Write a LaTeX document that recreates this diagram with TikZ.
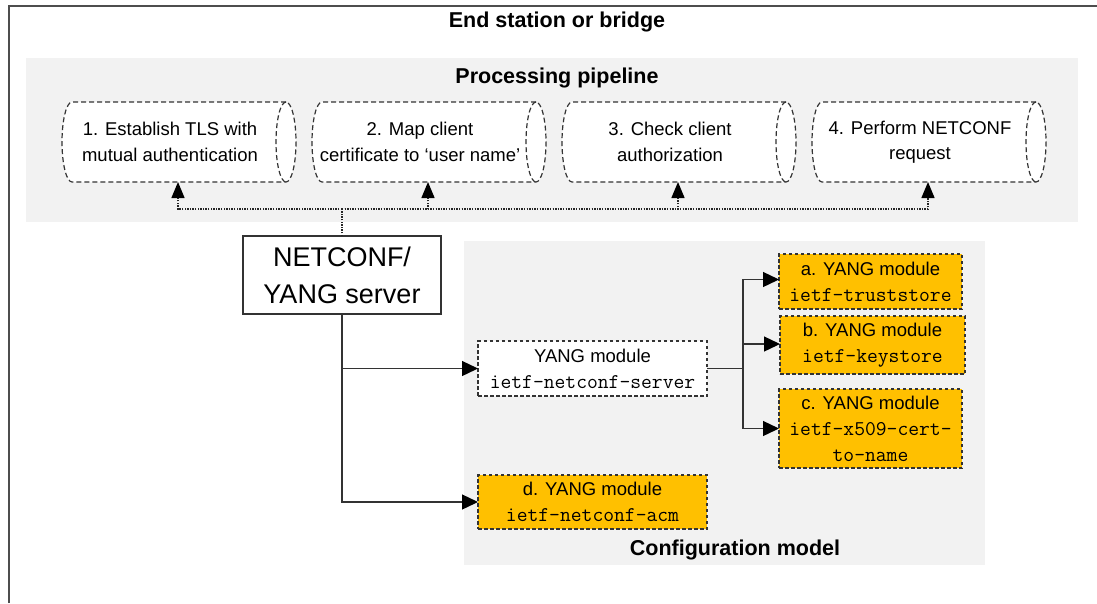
\documentclass[tikz,border=0pt]{standalone}
\usepackage{fontspec}
\setmainfont{Liberation Sans}
\usetikzlibrary{arrows.meta}
\definecolor{panel}{HTML}{F2F2F2}
\definecolor{amber}{HTML}{FFC000}
\definecolor{ink}{HTML}{333333}
\definecolor{framegray}{HTML}{4D4D4D}
\newcommand\modfont{\fontsize{21}{26}\ttfamily}
\pgfdeclarelayer{bottom}
\pgfdeclarelayer{background}
\pgfsetlayers{bottom,background,main}

\begin{document}
\begin{tikzpicture}[x=1pt,y=-1pt,
  every node/.style={inner sep=0pt, outer sep=0pt, align=center,
    font=\fontsize{18.5}{25.5}\selectfont},
  heading/.style={font=\fontsize{21.5}{26}\selectfont\bfseries},
  stage/.style={minimum width=216pt, minimum height=80pt},
  stageline/.style={draw=ink, line width=1.2pt, dash pattern=on 5pt off 3pt},
  server/.style={draw=ink, line width=1.3pt, fill=white,
    minimum width=198pt, minimum height=78pt,
    font=\fontsize{27}{37}\selectfont},
  module/.style={draw=ink, line width=1.1pt, dash pattern=on 3.5pt off 2.5pt,
    fill=white, font=\fontsize{18.5}{26}\selectfont},
  coremod/.style={module, fill=amber},
  link/.style={draw=ink, line width=1.3pt},
  linkarrow/.style={link, -{Triangle[length=16pt,width=15pt,color=black]}},
  busline/.style={draw=black!85, line width=1.4pt, dash pattern=on 1.4pt off 1.2pt},
  busarrow/.style={busline, -{Triangle[length=16pt,width=13pt,color=black]}},
]
\useasboundingbox (0,0) rectangle (1097,603);

% panels and frame
\begin{pgfonlayer}{bottom}
  \fill[white] (0,0) rectangle (1097,603);
  \fill[panel] (26,58) rectangle (1078,222);
  \fill[panel] (464,241) rectangle (985,565);
  \draw[framegray, line width=2pt] (8.5,603) -- (8.5,5.5) -- (1097,5.5);
\end{pgfonlayer}

% headings
\node[heading] (title) at (557,22) {End station or bridge};
\node[heading] (pipetitle) at (557,78) {Processing pipeline};
\node[heading] (cfgtitle) at (735,550) {Configuration model};

% pipeline stages (text area; the cylinder outline is drawn behind)
\node[stage] (c1) at (170,142) {1. Establish TLS with\\mutual authentication};
\node[stage] (c2) at (420,142) {2. Map client\\certificate to ‘user name’};
\node[stage] (c3) at (670,142) {3. Check client\\authorization};
\node[stage] (c4) at (920,142) {4. Perform NETCONF\\request};

\begin{pgfonlayer}{background}
  \foreach \n in {c1,c2,c3,c4}{
    \draw[stageline, fill=white] ([xshift=8pt]\n.north east) -- ([xshift=10pt]\n.north west)
      arc[start angle=90, end angle=270, x radius=10pt, y radius=40pt]
      -- ([xshift=8pt]\n.south east)
      arc[start angle=-90, end angle=90, x radius=10pt, y radius=40pt] -- cycle;
    \draw[stageline] ([xshift=8pt]\n.north east)
      arc[start angle=90, end angle=270, x radius=10pt, y radius=40pt];
  }
\end{pgfonlayer}

% server
\node[server] (srv) at (342,275) {NETCONF/\\YANG server};

% modules
\node[module, minimum width=229pt, minimum height=55pt] (ncs) at (592.5,368.5)
  {YANG module\\{\modfont ietf-netconf-server}};
\node[coremod, minimum width=229pt, minimum height=54pt] (dmod) at (592.5,502)
  {d. YANG module\\{\modfont ietf-netconf-acm}};
\node[coremod, minimum width=183pt, minimum height=55pt] (amod) at (870.5,281.5)
  {a. YANG module\\{\modfont ietf-truststore}};
\node[coremod, minimum width=185pt, minimum height=58pt] (bmod) at (872.5,345)
  {b. YANG module\\{\modfont ietf-keystore}};
\node[coremod, minimum width=183pt, minimum height=79pt] (cmod) at (870.5,428.5)
  {c. YANG module\\{\modfont ietf-x509-cert-}\\{\modfont to-name}};

% dotted bus from the server to each stage
\coordinate (bus) at (342,209);
\draw[busline] (srv.north) -- (bus);
\draw[busarrow] (bus) -| ([xshift=8pt]c1.south);
\draw[busarrow] (bus) -| ([xshift=8pt]c2.south);
\draw[busarrow] (bus) -| ([xshift=8pt]c3.south);
\draw[busarrow] (bus) -| ([xshift=8pt]c4.south);

% server to modules
\draw[linkarrow] (srv.south) |- (dmod.west);
\draw[linkarrow] (srv.south |- ncs.west) -- (ncs.west);
\coordinate (split) at (743,368.5);
\draw[link] (ncs.east) -- (split);
\draw[linkarrow] (split) |- ([yshift=2pt]amod.west);
\draw[linkarrow] (split) |- ([yshift=1pt]bmod.west);
\draw[linkarrow] (split) |- (cmod.west);
\end{tikzpicture}
\end{document}
